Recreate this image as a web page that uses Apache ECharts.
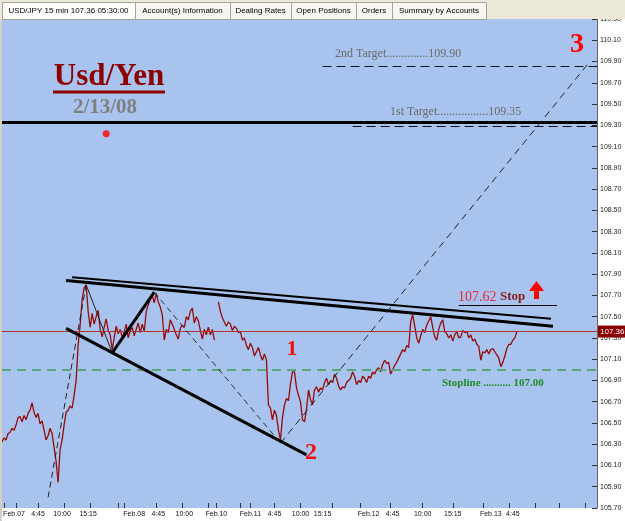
<!DOCTYPE html>
<html>
<head>
<meta charset="utf-8">
<script src="https://cdn.jsdelivr.net/npm/echarts@6/dist/echarts.min.js"></script>
<style>
  html, body { margin: 0; padding: 0; background: #fff; }
  #chart { width: 625px; height: 521px; }
</style>
</head>
<body>
<div id="chart"></div>
<script>
// 15 min closes, one value per slot (about 2px)
const priceFeb07 = [
  106.32, 106.36, 106.34, 106.40, 106.41, 106.45, 106.43, 106.48, 106.55, 106.56,
  106.51, 106.57, 106.53, 106.59, 106.62, 106.69, 106.60, 106.55, 106.59, 106.49,
  106.52, 106.43, 106.34, 106.38, 106.45, 106.40, 106.27, 106.14, 105.94, 106.25,
  106.34, 106.48, 106.60, 106.62, 106.66, 106.64, 106.76, 106.90, 107.23, 107.42,
  107.66, 107.77, 107.80, 107.55, 107.40, 107.53, 107.43, 107.50, 107.56, 107.38,
  107.31, 107.40, 107.48, 107.37, 107.33, 107.19, 107.30, 107.41, 107.34, 107.38,
  107.31
]
const priceFeb08 = [
  107.35, 107.43, 107.30, 107.37, 107.40, 107.32, 107.38, 107.44, 107.35, 107.43,
  107.36, 107.55, 107.61, 107.66, 107.70, 107.63, 107.72, 107.64, 107.59, 107.52,
  107.28, 107.38, 107.35, 107.47, 107.43, 107.38, 107.33, 107.29, 107.39, 107.42,
  107.40, 107.50, 107.47, 107.55, 107.58, 107.44, 107.50, 107.46, 107.37, 107.29,
  107.38, 107.33, 107.40, 107.33, 107.38, 107.28
]
const priceFeb10to11 = [
  107.64, 107.55, 107.49, 107.45, 107.41, 107.45, 107.43, 107.37, 107.41, 107.39,
  107.35, 107.36, 107.28, 107.30, 107.23, 107.19, 107.25, 107.21, 107.13, 107.17,
  107.21, 107.14, 107.09, 107.15, 107.09, 106.67, 106.64, 106.53, 106.62, 106.57,
  106.43, 106.34, 106.55, 106.67, 106.73, 106.71, 106.87, 106.98, 106.98, 106.83,
  106.76, 106.70, 106.53, 106.51, 106.63, 106.81, 106.72, 106.67, 106.81, 106.84,
  106.79, 106.83, 106.81, 106.88, 106.92, 106.86, 106.90, 106.88, 106.96, 106.92,
  106.85, 106.81, 106.84, 106.83, 106.88, 106.90, 106.92, 106.98, 106.94, 106.86,
  106.90
]
const priceFeb12 = [
  106.88, 106.94, 106.92, 106.88, 106.94, 106.92, 106.98, 106.96, 107.00, 107.02,
  106.98, 107.05, 107.09, 107.06, 107.07, 106.96, 107.00, 107.04, 107.07, 107.11,
  107.15, 107.19, 107.17, 107.23, 107.21, 107.45, 107.52, 107.41, 107.30, 107.25,
  107.32, 107.38, 107.35, 107.42, 107.46, 107.50, 107.40, 107.31, 107.28, 107.38,
  107.44, 107.47, 107.36, 107.34, 107.30, 107.33, 107.27, 107.33, 107.36, 107.30,
  107.31, 107.37, 107.35, 107.36, 107.30, 107.33, 107.27, 107.29, 107.24, 107.22,
  107.09
]
const priceFeb13 = [
  107.17, 107.16, 107.19, 107.15, 107.19, 107.20, 107.17, 107.14, 107.11, 107.03,
  107.07, 107.13, 107.20, 107.24, 107.24, 107.28, 107.30, 107.36
]

// x axis: slots incl. empty space on the right, tick and label slots
const barCount = 298
const labelIdx = [6, 18, 30, 43, 66, 78, 91, 107, 124, 136, 149, 160, 183, 195, 210, 225, 244, 255]
const labelText = ['Feb.07', '4:45', '10:00', '15:15', 'Feb.08', '4:45', '10:00', 'Feb.10', 'Feb.11',
  '4:45', '10:00', '15:15', 'Feb.12', '4:45', '10:00', '15:15', 'Feb.13', '4:45']
const tickIdx = [1, 7, 18, 31, 44, 58, 61, 77, 90, 103, 107, 119, 124, 136, 149, 165, 179, 194,
  210, 225, 240, 253, 266, 278, 291]

// y axis
const yMin = 105.7
const yMax = 110.3
const yStep = 0.2

// levels and drawn lines [slot, price]
const lastPrice = 107.36
const stopLine = 107.00
const stopLevel = 107.61
const heavyLevel = 109.33
const target1 = [[175, 109.29], [297, 109.29]]
const target2 = [[160, 109.86], [297, 109.86]]
const stopSeg = [[228, stopLevel], [277, stopLevel]]
const resistUpper = [[35, 107.87], [274, 107.48]]
const resistLower = [[32, 107.84], [275, 107.41]]
const support = [[32, 107.39], [152, 106.20]]
const swingUp1 = [[23, 105.80], [42, 107.80]]
const swingDown1 = [[42, 107.80], [55, 107.16]]
const swingUp2 = [[55, 107.16], [76, 107.73]]
const swingDown2 = [[76, 107.73], [139, 106.31]]
const projection = [[139, 106.31], [293, 109.89]]
const redDot = [[52, 109.22]]

const tabNames = ['USD/JPY 15 min 107.36 05:30:00', 'Account(s) Information', 'Dealing Rates',
  'Open Positions', 'Orders', 'Summary by Accounts']
const tabEdges = [2, 135, 230, 291, 356, 392, 486]

const priceData = [].concat(priceFeb07, priceFeb08, [null], priceFeb10to11, priceFeb12, priceFeb13)
const xCats = []
for (let i = 0; i < barCount; i++) xCats.push('b' + i)
const labelMap = {}
labelIdx.forEach((k, n) => { labelMap[k] = labelText[n] })
const tickSet = new Set(tickIdx)

function seg(pts, style) {
  return [{ coord: pts[0], lineStyle: style }, { coord: pts[1] }]
}

const serif = '"Liberation Serif", "DejaVu Serif", serif'
function txt(text, x, y, font, fill, align) {
  return {
    type: 'text', x: x, y: y, z: 20, silent: true,
    style: {
      text: text, font: font, fill: fill,
      align: align || 'center', textAlign: align || 'center',
      verticalAlign: 'middle', textVerticalAlign: 'middle'
    }
  }
}

const graphics = [
  // title block
  txt('Usd/Yen', 109, 77, 'bold 31px ' + serif, '#8b0000'),
  { type: 'line', z: 20, silent: true, shape: { x1: 53, y1: 92, x2: 165, y2: 92 }, style: { stroke: '#8b0000', lineWidth: 3 } },
  txt('2/13/08', 105, 108, 'bold 21px ' + serif, '#7f7f7f'),
  txt('2nd Target..............109.90', 335, 54, '12px ' + serif, '#6a6a6a', 'left'),
  txt('1st Target.................109.35', 390, 112, '12px ' + serif, '#6a6a6a', 'left'),
  txt('3', 577, 45, 'bold 28px ' + serif, '#ff0000'),
  txt('1', 292, 349, 'bold 22px ' + serif, '#ee1111'),
  txt('2', 311, 453, 'bold 24px ' + serif, '#ee1111'),
  txt('107.62', 458, 297, '14px ' + serif, '#e8283c', 'left'),
  txt('Stop', 500, 297, 'bold 13px ' + serif, '#8b1c1c', 'left'),
  txt('Stopline .......... 107.00', 442, 383, 'bold 11px ' + serif, '#208a20', 'left'),
  {
    type: 'polygon', z: 20, silent: true,
    shape: { points: [[529, 291], [536.5, 281], [544, 291], [539, 291], [539, 299], [534, 299], [534, 291]] },
    style: { fill: '#ff0000' }
  },
  // left frame
  { type: 'rect', z: 20, silent: true, shape: { x: 0, y: 19, width: 2, height: 502 }, style: { fill: '#d4d0c8' } },
  // tab bar
  { type: 'rect', z: 100, silent: true, shape: { x: 0, y: 0, width: 625, height: 19 }, style: { fill: '#ece9d8' } }
]
for (let t = 0; t < tabNames.length; t++) {
  const x0 = tabEdges[t], x1 = tabEdges[t + 1]
  graphics.push({
    type: 'rect', z: 101, silent: true,
    shape: { x: x0 + 0.5, y: 2.5, width: x1 - x0, height: 17 },
    style: { fill: t === 0 ? '#fdfdfb' : '#f6f5ef', stroke: '#a3a39a', lineWidth: 1 }
  })
  graphics.push({
    type: 'text', z: 102, silent: true, x: (x0 + x1) / 2, y: 11,
    style: {
      text: tabNames[t], font: '8px "Liberation Sans", Arial, sans-serif', fill: '#000',
      align: 'center', textAlign: 'center', verticalAlign: 'middle', textVerticalAlign: 'middle'
    }
  })
}

const chart = echarts.init(document.getElementById('chart'))
const option = {
  animation: false,
  backgroundColor: '#ffffff',
  grid: {
    left: 2, right: 28, top: 19, bottom: 13,
    show: true, backgroundColor: '#a8c4ee', borderWidth: 0,
    containLabel: false, outerBoundsMode: 'none'
  },
  xAxis: {
    type: 'category',
    data: xCats,
    boundaryGap: false,
    axisLine: { show: false },
    axisTick: { show: true, inside: true, length: 5, interval: (i) => tickSet.has(i), lineStyle: { color: '#333' } },
    axisLabel: {
      interval: (i) => labelMap[i] !== undefined,
      formatter: (v, i) => labelMap[i] || '',
      fontSize: 7, color: '#111', margin: 3,
      fontFamily: '"Liberation Sans", Arial, sans-serif',
      hideOverlap: false
    },
    splitLine: { show: false }
  },
  yAxis: {
    type: 'value',
    position: 'right',
    min: yMin, max: yMax, interval: yStep,
    axisLine: { show: true, lineStyle: { color: '#666' } },
    axisTick: { show: true, inside: true, length: 5, lineStyle: { color: '#333' } },
    axisLabel: {
      formatter: (v) => v.toFixed(2), fontSize: 7, color: '#222', margin: 3,
      fontFamily: '"Liberation Sans", Arial, sans-serif'
    },
    splitLine: { show: false }
  },
  graphic: { elements: graphics },
  series: [
    {
      name: 'USD/JPY',
      type: 'line',
      data: priceData,
      symbol: 'none',
      connectNulls: false,
      lineStyle: { color: '#960a0a', width: 1.3 },
      z: 3
    },
    {
      name: 'marks',
      type: 'scatter',
      data: redDot,
      symbolSize: 7,
      itemStyle: { color: '#ff0000' },
      z: 4,
      markLine: {
        silent: true,
        animation: false,
        symbol: ['none', 'none'],
        label: { show: false },
        data: [
          {
            yAxis: lastPrice,
            lineStyle: { color: '#b03434', width: 1, type: 'solid', opacity: 1 },
            label: {
              show: true, position: 'end', formatter: lastPrice.toFixed(2),
              backgroundColor: '#8b0000', color: '#fff', fontSize: 8,
              padding: [2, 2, 2, 2], distance: 1,
              fontFamily: '"Liberation Sans", Arial, sans-serif'
            }
          },
          { yAxis: stopLine, lineStyle: { color: '#5aa878', width: 2, type: [9, 6] } },
          { yAxis: heavyLevel, lineStyle: { color: '#000', width: 3, type: 'solid' } },
          seg(target2, { color: '#111', width: 1, type: [9, 5] }),
          seg(target1, { color: '#111', width: 1, type: [9, 5] }),
          seg(stopSeg, { color: '#000', width: 1, type: 'solid' }),
          seg(resistUpper, { color: '#000', width: 2, type: 'solid' }),
          seg(resistLower, { color: '#000', width: 3, type: 'solid' }),
          seg(support, { color: '#000', width: 3, type: 'solid' }),
          seg(swingUp1, { color: '#222', width: 1, type: [6, 4] }),
          seg(swingDown1, { color: '#222', width: 1, type: 'solid' }),
          seg(swingUp2, { color: '#000', width: 3, type: 'solid' }),
          seg(swingDown2, { color: '#333', width: 1, type: [6, 4] }),
          seg(projection, { color: '#222', width: 1, type: [7, 5] })
        ]
      }
    }
  ]
}
chart.setOption(option)
</script>
</body>
</html>
